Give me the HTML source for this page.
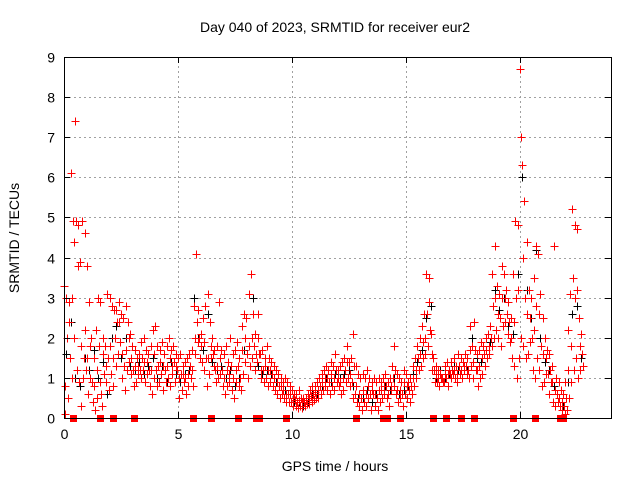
<!DOCTYPE html>
<html><head><meta charset="utf-8"><style>
body{margin:0;background:#fff}
svg{display:block;font-family:"Liberation Sans",sans-serif}
</style></head><body>
<svg id="chart" width="640" height="480" viewBox="0 0 640 480" xmlns="http://www.w3.org/2000/svg" shape-rendering="crispEdges">
<rect width="640" height="480" fill="#fff"/>
<text x="335" y="32" font-size="14" text-anchor="middle">Day 040 of 2023, SRMTID for receiver eur2</text>
<text x="335" y="471" font-size="14" text-anchor="middle">GPS time / hours</text>
<text transform="translate(19,238) rotate(-90)" font-size="14" text-anchor="middle">SRMTID / TECUs</text>
<g id="grid"></g>
<g id="marks"></g>
<rect x="64.5" y="57.5" width="547" height="361" fill="none" stroke="#000" stroke-width="1"/>
<g id="ticks"></g>
</svg>
<script>
const xTicks=[0,5,10,15,20];
const yTicks=[0,1,2,3,4,5,6,7,8,9];
const step=0.1;
const redHi=[3.3,3.0,2.9,6.1,4.9,7.4,4.8,3.9,4.9,4.6,
3.8,2.9,2.0,1.5,2.2,3.0,2.9,2.0,1.8,3.1,
3.0,2.8,2.7,2.7,2.9,2.6,2.5,2.8,2.4,2.1,
1.8,1.7,1.5,1.6,1.9,2.0,1.7,1.6,1.8,2.2,
2.3,1.8,1.7,1.9,1.6,1.8,2.0,1.7,1.8,1.6,
1.5,1.6,1.3,1.4,1.5,1.6,1.7,2.8,4.1,2.7,
2.1,2.5,2.8,3.1,2.4,2.0,1.7,1.8,2.9,1.7,
1.6,1.8,1.4,2.0,1.6,1.7,1.9,1.5,2.3,2.6,
2.5,3.1,3.6,2.6,2.1,2.6,1.6,1.7,1.5,1.8,
1.5,1.4,1.3,1.2,1.1,1.0,0.9,1.0,0.9,0.8,
0.7,0.6,0.6,0.7,0.5,0.5,0.5,0.6,0.7,0.8,
0.8,0.9,1.0,1.1,1.2,1.3,1.2,1.4,1.3,1.6,
1.2,1.3,1.4,1.5,1.8,1.4,1.5,2.1,1.3,1.1,
1.0,1.1,1.0,1.2,1.0,0.9,1.0,0.9,1.0,0.9,
1.0,1.1,0.9,1.0,1.3,1.8,1.1,1.0,0.9,1.2,
1.1,0.9,1.0,1.3,1.5,1.8,2.0,2.3,2.6,3.6,
3.5,2.1,1.5,1.3,1.2,1.1,1.0,1.3,1.4,1.2,
1.4,1.5,1.3,1.6,1.5,1.4,1.6,1.5,2.3,1.8,
2.4,1.6,1.7,1.9,1.8,2.0,2.1,2.3,3.6,4.3,
3.3,3.1,3.8,3.6,3.2,2.9,2.5,3.6,4.9,4.8,
8.7,6.3,5.4,4.4,3.2,3.0,3.5,4.3,4.1,3.1,
2.5,2.0,1.7,1.6,1.3,4.3,1.0,0.9,0.7,0.6,
0.9,2.2,3.1,5.2,4.8,4.7,2.5,2.1];
const redMid=[0.8,2.0,2.4,3.0,4.4,4.9,3.8,1.8,1.0,2.2,
1.5,1.8,0.9,0.8,1.2,1.8,0.6,1.6,0.9,1.5,
1.8,1.5,2.0,2.4,2.4,1.6,1.3,1.7,2.0,1.5,
1.2,1.3,1.3,1.2,1.5,1.4,1.4,1.2,1.2,1.6,
1.2,1.3,1.4,1.3,1.2,1.3,1.5,1.3,1.4,1.3,
1.0,1.1,1.1,1.0,1.1,1.3,1.2,2.0,2.4,2.0,
1.8,1.9,1.5,1.5,1.8,1.6,1.2,1.3,1.5,1.2,
1.0,1.2,1.1,1.3,1.0,1.2,1.3,1.0,1.7,2.0,
1.6,1.8,2.0,1.8,1.6,2.0,1.2,1.2,1.3,1.2,
1.2,1.1,1.0,0.9,0.8,0.8,0.7,0.6,0.6,0.6,
0.5,0.45,0.4,0.45,0.4,0.4,0.45,0.5,0.55,0.6,
0.65,0.7,0.8,0.9,1.0,1.0,0.9,1.1,1.0,1.2,
1.0,0.9,1.0,1.2,1.4,1.1,0.9,1.3,0.8,0.6,
0.5,0.7,0.6,0.8,0.6,0.7,0.6,0.5,0.7,0.7,
0.8,0.8,0.6,0.8,1.0,1.2,0.7,0.7,0.6,0.9,
0.8,0.7,0.8,1.0,1.2,1.5,1.6,1.9,2.0,2.6,
2.9,1.6,1.2,1.1,1.0,1.0,0.9,1.1,1.1,1.1,
1.2,1.2,1.1,1.3,1.2,1.3,1.3,1.2,1.7,1.4,
1.7,1.2,1.3,1.5,1.6,1.7,1.8,2.0,2.8,3.0,
2.6,2.5,3.0,3.0,2.6,2.4,2.0,2.4,3.0,3.2,
7.0,4.0,3.0,2.6,2.5,2.0,2.2,2.8,2.6,1.8,
1.6,1.5,1.1,1.2,0.9,0.7,0.6,0.5,0.4,0.3,
0.5,1.2,1.8,3.5,3.0,3.2,1.8,1.6];
const redLo=[0.1,0.5,1.5,1.0,2.0,1.2,0.9,0.3,1.5,1.2,
0.6,1.0,0.4,0.2,0.5,0.9,0.3,1.1,1.3,0.7,
1.1,0.8,1.3,1.6,1.9,1.0,0.7,1.2,1.4,1.1,
0.8,0.9,1.1,1.0,1.2,0.9,1.1,0.8,0.6,1.0,
0.8,0.9,1.1,0.7,0.9,1.0,0.8,1.1,0.9,1.2,
0.5,0.7,0.9,0.6,0.8,1.0,0.8,1.6,1.9,1.5,
1.4,1.2,0.8,1.1,1.5,1.3,0.9,1.0,1.1,0.8,
0.6,0.8,0.9,0.7,0.5,0.9,0.8,0.7,1.1,1.4,
1.0,1.3,1.5,1.2,1.4,1.6,1.0,0.9,1.0,0.8,
0.9,0.8,0.7,0.6,0.5,0.6,0.5,0.4,0.4,0.4,
0.3,0.3,0.25,0.3,0.25,0.3,0.35,0.35,0.4,0.45,
0.5,0.5,0.6,0.7,0.8,0.7,0.6,0.8,0.7,0.9,
0.8,0.6,0.7,0.9,1.0,0.8,0.5,0.6,0.4,0.3,
0.2,0.4,0.3,0.5,0.2,0.6,0.3,0.2,0.4,0.5,
0.6,0.5,0.3,0.7,0.8,0.6,0.4,0.5,0.3,0.6,
0.5,0.4,0.6,0.8,1.0,1.2,1.3,1.5,1.6,1.8,
2.2,1.2,0.9,0.9,0.8,1.0,0.9,1.0,0.8,1.0,
1.1,1.0,0.9,1.1,1.0,1.2,1.1,1.0,1.3,1.0,
1.2,0.8,1.0,1.1,1.3,1.5,1.6,1.8,2.0,2.2,
2.0,1.8,2.3,2.4,2.1,1.9,1.5,1.3,1.0,1.5,
2.0,1.8,1.5,1.6,1.9,1.2,1.0,1.5,1.2,0.8,
0.9,1.1,0.6,0.9,0.4,0.3,0.4,0.3,0.2,0.1,
0.2,0.5,0.9,1.2,1.5,1.0,1.2,1.3];
const blackStep=0.2;
const blackVals=[1.6,2.4,1.0,0.8,1.5,1.2,1.7,1.0,1.4,0.6,
2.0,2.3,1.5,2.0,1.3,1.2,1.4,1.1,1.3,1.5,
1.0,1.3,0.9,1.4,1.1,0.9,1.1,1.2,3.0,2.0,
1.7,2.6,1.4,1.2,1.3,1.0,1.2,0.8,1.0,1.7,
1.8,3.0,1.3,1.1,1.2,1.1,0.9,0.8,0.7,0.6,
0.4,0.4,0.3,0.4,0.6,0.6,0.8,1.0,0.9,1.1,
1.0,1.1,1.2,0.8,0.5,0.5,0.7,0.4,0.6,0.7,
0.8,0.7,1.0,0.6,0.7,0.8,1.1,1.4,1.7,2.5,
2.8,1.0,1.2,1.0,1.1,1.3,1.2,1.4,1.2,2.0,
1.5,1.4,1.7,1.9,3.2,2.7,3.0,2.3,2.1,3.6,
6.0,3.2,2.5,4.2,2.0,1.4,1.2,0.8,0.5,0.3,
0.9,2.6,2.8,1.5];
const zeroTimes=[0.39,1.58,2.15,3.07,5.66,6.45,7.63,8.42,8.55,9.74,12.8,14.0,14.17,14.74,16.2,16.75,17.4,18.0,19.7,20.65,21.75,21.9];

const X0=64,X1=611,Y0=418,Y1=57,XMAX=24,YMAX=9;
const xs=t=>X0+(X1-X0)*t/XMAX;
const ys=v=>Y0-(Y0-Y1)*v/YMAX;
const NS="http://www.w3.org/2000/svg";
const grid=document.getElementById('grid'),ticks=document.getElementById('ticks'),marks=document.getElementById('marks');
function mk(tag,attrs,parent){const e=document.createElementNS(NS,tag);for(const k in attrs)e.setAttribute(k,attrs[k]);parent.appendChild(e);return e;}
yTicks.forEach(v=>{
  const y=Math.round(ys(v))+0.5;
  if(v>0&&v<YMAX){const g=mk('line',{x1:X0,x2:X1,y1:y,y2:y,stroke:'#a0a0a0','stroke-dasharray':'2,3'},grid);
  
  }
  mk('line',{x1:X0,x2:X0+6,y1:y,y2:y,stroke:'#000'},ticks);
  mk('line',{x1:X1,x2:X1-6,y1:y,y2:y,stroke:'#000'},ticks);
  const t=mk('text',{x:X0-9,y:y+5,'font-size':14,'text-anchor':'end'},ticks);t.textContent=v;
  
  
});
xTicks.forEach(v=>{
  const x=Math.round(xs(v))+0.5;
  if(v>0){const g=mk('line',{x1:x,x2:x,y1:Y0,y2:Y1,stroke:'#a0a0a0','stroke-dasharray':'2,3'},grid);
  
  }
  mk('line',{x1:x,x2:x,y1:Y0,y2:Y0-6,stroke:'#000'},ticks);
  mk('line',{x1:x,x2:x,y1:Y1,y2:Y1+6,stroke:'#000'},ticks);
  const t=mk('text',{x:x,y:Y0+21,'font-size':14,'text-anchor':'middle'},ticks);t.textContent=v;
  
  
});
function cross(t,v,col){
  const x=Math.round(xs(t))+0.5,y=Math.round(ys(v))+0.5;
  const p=mk('path',{d:`M${x-4},${y}h8M${x},${y-4}v8`,stroke:col,'stroke-width':1,fill:'none'},marks);
  
  
}
blackVals.forEach((v,i)=>cross(i*blackStep+0.1,v,'#000'));
redHi.forEach((v,i)=>cross(i*step,v,'#ff0000'));
redMid.forEach((v,i)=>cross(i*step+0.03,v,'#ff0000'));
redLo.forEach((v,i)=>cross(i*step+0.06,v,'#ff0000'));
zeroTimes.forEach(t=>{
  const r=mk('rect',{x:Math.round(xs(t))-3,y:Y0-3,width:7,height:7,fill:'#ff0000'},marks);
  
  
});
</script>
</body></html>
